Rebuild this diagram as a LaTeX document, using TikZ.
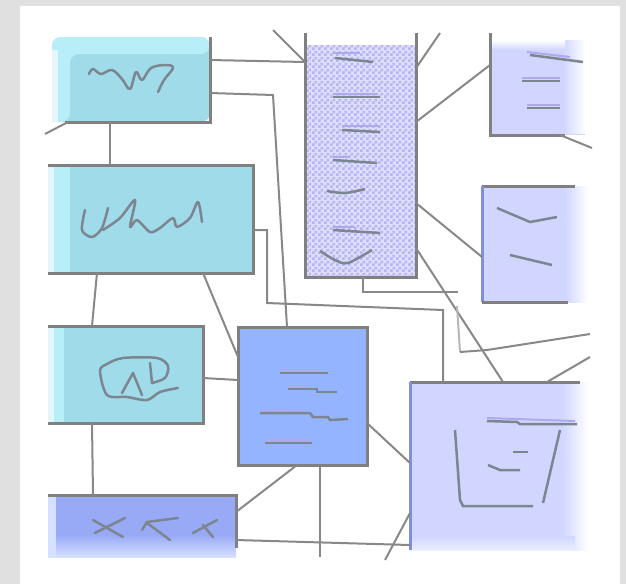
\documentclass[tikz,border=0pt]{standalone}
\usetikzlibrary{patterns}

\definecolor{panelgray}{RGB}{224,224,224}
\definecolor{cyanfill}{RGB}{160,219,234}
\definecolor{cyanlight}{RGB}{184,238,248}
\definecolor{cyanpale}{RGB}{228,246,252}
\definecolor{bluefill}{RGB}{152,170,246}
\definecolor{bluepale}{RGB}{214,224,255}
\definecolor{midblue}{RGB}{148,180,255}
\definecolor{lav}{RGB}{208,214,255}
\definecolor{chk}{RGB}{180,180,246}
\definecolor{chkbase}{RGB}{222,222,252}
\definecolor{linegray}{RGB}{136,136,136}
\definecolor{bordergray}{RGB}{128,128,128}
\definecolor{blueedge}{RGB}{128,144,216}
\definecolor{scribgray}{RGB}{124,134,144}
\definecolor{halo}{RGB}{176,168,236}

% 3pt checker cells for the dotted box
\pgfdeclarepatternformonly{checkthree}{\pgfqpoint{0pt}{0pt}}{\pgfqpoint{6pt}{6pt}}{\pgfqpoint{6pt}{6pt}}{%
  \pgfpathrectangle{\pgfqpoint{0pt}{0pt}}{\pgfqpoint{3pt}{3pt}}%
  \pgfpathrectangle{\pgfqpoint{3pt}{3pt}}{\pgfqpoint{3pt}{3pt}}%
  \pgfusepath{fill}}

\tikzset{
  box/.style={anchor=north west, inner sep=0pt, outer sep=0pt, draw=none},
  conn/.style={draw=linegray, line width=2pt},
  edge/.style={draw=bordergray, line width=3pt},
  bedge/.style={draw=blueedge, line width=3pt},
  scrib/.style={draw=scribgray, line width=2.5pt, line cap=round, line join=round},
  dashline/.style={draw=scribgray, line width=2.5pt},
  halodash/.style={draw=halo, line width=2pt},
}

\begin{document}
\begin{tikzpicture}[x=1pt,y=-1pt]
\useasboundingbox (0,0) rectangle (626,584);
\fill[panelgray] (0,0) rectangle (626,584);
\fill[white] (20,6) rectangle (620,584);

% ---------- boxes ----------
% cyan column
\node[box, minimum width=158pt, minimum height=85pt] (b1) at (52,37) {};
\fill[cyanfill, rounded corners=9pt] (52,122) -- (52,37) -- (210,37) -- (210,122) -- cycle;
\fill[cyanlight, rounded corners=9pt] (52,122) -- (52,37) -- (210,37) -- (210,54) -- (70,54) -- (70,122) -- cycle;
\fill[cyanpale] (52,50) rectangle (58,122);

\node[box, minimum width=205pt, minimum height=108pt, fill=cyanfill] (b2) at (48,165) {};
\fill[cyanlight] (48,165) rectangle (70,273);
\fill[cyanpale] (48,165) rectangle (54,273);

\node[box, minimum width=155pt, minimum height=97pt, fill=cyanfill] (b3) at (48,326) {};
\fill[cyanlight] (48,326) rectangle (64,423);
\fill[cyanpale] (48,326) rectangle (54,423);

\node[box, minimum width=188pt, minimum height=62pt, fill=bluefill] (b4) at (48,495) {};
\shade[top color=bluefill, bottom color=bluepale] (48,535) rectangle (236,557);
\fill[bluepale] (48,495) rectangle (56,557);

% central blue box
\node[box, minimum width=129pt, minimum height=138pt, fill=midblue] (b5) at (238,327) {};

% tall dotted box
\node[box, minimum width=111pt, minimum height=232pt, fill=chkbase] (b6) at (305,45) {};
\fill[pattern=checkthree, pattern color=chk] (b6.north west) rectangle (b6.south east);

% lavender boxes on the right
\node[box, minimum width=95pt, minimum height=95pt, fill=lav] (b7) at (490,40) {};
\shade[left color=lav, right color=white] (563,40) rectangle (585,133);
\shade[top color=white, bottom color=lav] (490,40) rectangle (565,50);

\node[box, minimum width=106pt, minimum height=116pt, fill=lav] (b8) at (482,186) {};
\shade[left color=lav, right color=white] (565,186) rectangle (588,302);

\node[box, minimum width=178pt, minimum height=168pt, fill=lav] (b9) at (410,382) {};
\shade[left color=lav, right color=white] (562,382) rectangle (588,550);
\shade[top color=lav, bottom color=white!60!lav] (410,536) rectangle (575,550);

% ---------- borders ----------
\draw[edge] (b1.north east) -- (b1.south east) -- ([xshift=13pt]b1.south west);
\draw[edge] (b2.north west) -- (b2.north east) -- (b2.south east) -- (b2.south west);
\draw[edge] (b3.north west) -- (b3.north east) -- (b3.south east) -- (b3.south west);
\draw[edge] (b4.north west) -- (b4.north east) -- (b4.east |- 0,548);
\draw[edge] (b5.north west) rectangle (b5.south east);
\draw[edge] (b6.north west |- 0,33) -- (b6.south west) -- (b6.south east) -- (b6.north east |- 0,33);
\draw[edge] (b7.north west |- 0,33) -- (b7.south west) -- (b7.south west -| 565,0);
\draw[edge] (b8.north west) -- (b8.north west -| 575,0);
\draw[bedge] (b8.north west) -- (b8.south west);
\draw[edge] (b8.south west) -- (b8.south west -| 568,0);
\draw[edge] (b9.north west) -- (b9.north west -| 580,0);
\draw[bedge] (b9.north west) -- (b9.south west);

% ---------- connectors ----------
\coordinate (s1) at (273,30);
\coordinate (s2) at (440,33);
\coordinate (s3) at (592,148);
\coordinate (s4) at (45,134);
\coordinate (s5) at (590,334);
\coordinate (s6) at (590,357);
\coordinate (s7) at (385,560);
\coordinate (s8) at (320,557);

\draw[conn] (b1.east |- 0,60) -- (b6.west |- 0,62);
\draw[conn] (s1) -- (b6.west |- 0,62);
\draw[conn] (b1.east |- 0,93) -- (273,95) -- (b5.north -| 287,0);
\draw[conn] (b2.east |- 0,230) -- (267,230) -- (267,303) -- (443,310) -- (b9.north -| 443,0);
\draw[conn] (b6.south -| 363,0) -- (363,292) -- (458,292);
\draw[conn] (b6.east |- 0,248) -- (b9.north -| 503,0);
\draw[conn, draw=linegray!60] (457,306) -- (460,352);
\draw[conn] (460,352) -- (487,350) -- (s5);
\draw[conn] (b9.north -| 547,0) -- (s6);
\draw[conn] (b6.east |- 0,122) -- (b7.west |- 0,65);
\draw[conn] (b6.east |- 0,68) -- (s2);
\draw[conn] (b6.east |- 0,203) -- (b8.west |- 0,257);
\draw[conn] (b7.south -| 560,0) -- (s3);
\draw[conn] ([xshift=16pt]b1.south west) -- (s4);
\draw[conn] (b1.south -| 110,0) -- (b2.north -| 110,0);
\draw[conn] (b2.south -| 97,0) -- (b3.north -| 92,0);
\draw[conn] (b2.south -| 203,0) -- (b5.west |- 0,357);
\draw[conn] (b3.east |- 0,378) -- (b5.west |- 0,380);
\draw[conn] (b3.south -| 92,0) -- (b4.north -| 93,0);
\draw[conn] (b5.south -| 297,0) -- (b4.east |- 0,512);
\draw[conn] (b4.east |- 0,540) -- (b9.west |- 0,545);
\draw[conn] (b5.south -| 320,0) -- (s8);
\draw[conn] (b5.east |- 0,423) -- (b9.west |- 0,463);
\draw[conn] (b9.west |- 0,513) -- (s7);

% ---------- scribbles ----------
% box 1
\draw[scrib] plot[smooth, tension=0.6] coordinates {(89,74) (93,69) (101,74) (112,70) (122,79) (130,89) (136,72) (142,80) (151,68) (166,65) (173,68) (164,80) (158,92)};
% box 2
\draw[scrib] plot[smooth, tension=0.5] coordinates {(85,210) (82,230) (92,237) (102,228) (108,208)};
\draw[scrib] plot[smooth, tension=0.5] coordinates {(103,230) (120,218) (135,200) (130,227) (137,220) (150,232) (160,228) (173,218) (177,227) (190,218) (198,202) (202,222)};
% box 3
\draw[scrib] plot[smooth, tension=0.5] coordinates {(152,383) (165,378) (168,366) (157,358) (123,358) (107,364) (100,371) (107,395) (127,397) (147,400) (160,392) (178,388)};
\draw[scrib] (122,393) -- (133,373) -- (142,395);
\draw[scrib] (150,363) -- (152,383);
% box 4
\draw[scrib] (93,520) -- (123,537);
\draw[scrib] (95,533) -- (125,518);
\draw[scrib] (142,530) -- (147,522) -- (178,518);
\draw[scrib] (147,523) -- (170,540);
\draw[scrib] (193,533) -- (217,520);
\draw[scrib] (203,525) -- (213,537);
% central box
\draw[halodash] (280,370) -- (320,370);
\draw[dashline] (280,373) -- (328,373);
\draw[halodash] (288,386) -- (308,386);
\draw[dashline] (288,389) -- (317,389) -- (317,392) -- (337,392);
\draw[halodash] (260,410) -- (303,410);
\draw[dashline] (260,413) -- (310,413) -- (313,417) -- (328,417) -- (330,420) -- (348,419);
\draw[halodash] (265,440) -- (312,440);
\draw[dashline] (265,443) -- (312,443);
% tall box
\draw[halodash] (333,53) -- (360,53);
\draw[dashline] (335,58) -- (373,62);
\draw[halodash] (333,94) -- (378,94);
\draw[dashline] (333,97) -- (380,97);
\draw[halodash] (342,126) -- (380,126);
\draw[dashline] (342,130) -- (380,132);
\draw[halodash] (333,157) -- (350,157);
\draw[dashline] (333,160) -- (377,163);
\draw[dashline] plot[smooth] coordinates {(327,191) (345,193) (365,189)};
\draw[halodash] (333,227) -- (355,227);
\draw[dashline] (333,230) -- (380,233);
\draw[dashline] plot[smooth] coordinates {(320,251) (335,260) (348,263) (372,250)};
% top-right box
\draw[halodash] (527,52) -- (570,57);
\draw[dashline] (530,55) -- (583,62);
\draw[halodash] (522,78) -- (560,78);
\draw[dashline] (522,81) -- (560,81);
\draw[halodash] (527,105) -- (560,105);
\draw[dashline] (527,108) -- (560,108);
% middle-right box
\draw[dashline] (497,208) -- (530,222) -- (557,217);
\draw[dashline] (510,255) -- (552,265);
% bottom-right box
\draw[halodash] (487,418) -- (575,421);
\draw[dashline] (487,421) -- (517,422) -- (520,424) -- (577,424);
\draw[dashline] (455,430) -- (460,500) -- (463,506) -- (533,506);
\draw[dashline] (560,430) -- (543,503);
\draw[dashline] (513,452) -- (528,452);
\draw[dashline] (488,465) -- (500,470) -- (520,470);
\end{tikzpicture}
\end{document}
